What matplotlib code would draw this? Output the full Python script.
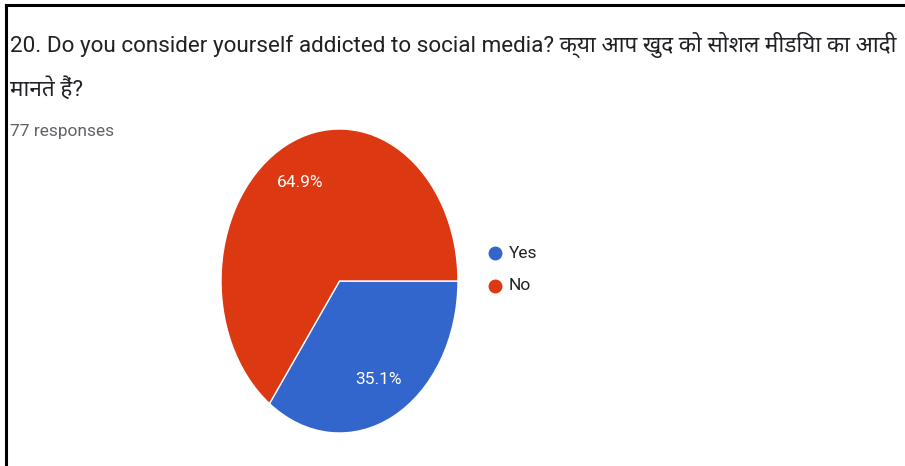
import matplotlib
matplotlib.use("Agg")
import matplotlib.pyplot as plt
from matplotlib.lines import Line2D

plt.rcParams['font.family'] = ['Roboto', 'Noto Sans', 'DejaVu Sans']

title_en = "20. Do you consider yourself addicted to social media?"
title_hi_1 = "क्या आप खुद को सोशल मीडिया का आदी"
title_hi_2 = "मानते हैं?"
n_responses = 77

answers = ["Yes", "No"]
counts = [27, 50]
colors = ["#3366cc", "#dc3912"]

W, H = 905, 466
fig = plt.figure(figsize=(W / 100, H / 100), dpi=100)

def fx(px):
    return px / W

def fy(py):
    return 1 - py / H

# frame lines (left and top only)
fig.add_artist(Line2D([fx(6), fx(6)], [0, fy(5)], color="black", lw=2.2))
fig.add_artist(Line2D([fx(6), fx(904)], [fy(5), fy(5)], color="black", lw=2.2))

fig.text(fx(10), fy(52), title_en + " " + title_hi_1, fontsize=16.2,
         color="#202124", va="baseline", ha="left")
fig.text(fx(10), fy(96), title_hi_2, fontsize=16.2,
         color="#202124", va="baseline", ha="left")
fig.text(fx(10), fy(136), f"{n_responses} responses", fontsize=12.5,
         color="#5f6368", va="baseline", ha="left")

# pie is drawn into a box that is taller than wide, so it comes out as an ellipse
ax = fig.add_axes([fx(221), fy(433), fx(458) - fx(221), fy(129) - fy(433)])
wedges, texts, autotexts = ax.pie(
    counts, colors=colors, startangle=0, counterclock=False,
    autopct="%1.1f%%", pctdistance=0.73,
    wedgeprops=dict(edgecolor="white", linewidth=1),
    textprops=dict(color="white", fontsize=12.5),
)
ax.set_aspect("auto")
ax.set_xlim(-1, 1)
ax.set_ylim(-1, 1)
ax.axis("off")

# legend
for i, (name, c) in enumerate(zip(answers, colors)):
    y = 253 + i * 33
    fig.add_artist(Line2D([fx(495)], [fy(y)], marker="o", markersize=9,
                          color=c, linestyle="none"))
    fig.text(fx(509), fy(y), name, fontsize=12.5, color="#222222",
             va="center", ha="left")

fig.savefig("out.png", dpi=100)
